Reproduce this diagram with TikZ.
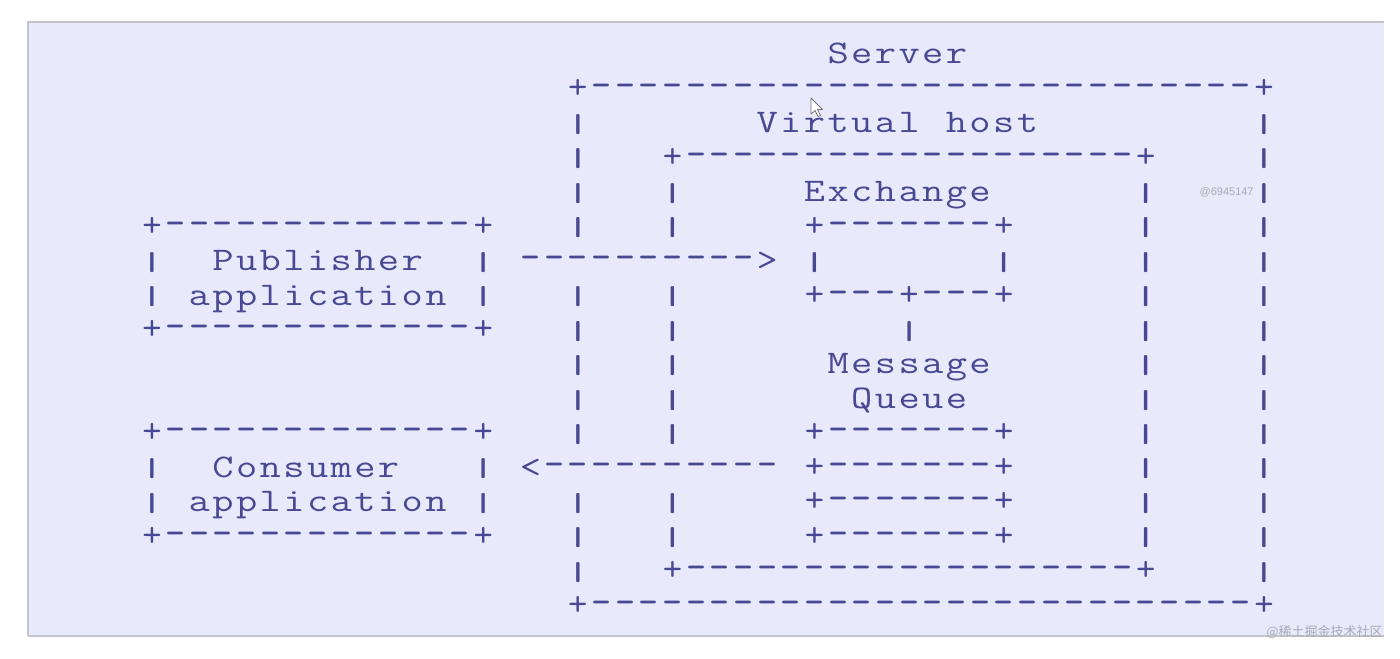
\documentclass[tikz,border=0pt]{standalone}
\usepackage{fontspec}
\usepackage{graphicx}
\newfontfamily\cjkfont{Noto Sans CJK SC}
\newfontfamily\wmfont{Liberation Sans}
\definecolor{ink}{RGB}{72,72,148}
\definecolor{panel}{RGB}{232,234,252}
\definecolor{panelline}{RGB}{196,196,206}
\definecolor{wmgray}{RGB}{170,170,180}
\newlength\monocw
\setlength\monocw{11.83pt}
\newcommand\mono[1]{\monoloop#1\relax}
\def\monoloop#1{\ifx\relax#1\else\monochar{#1}\expandafter\monoloop\fi}
\newcommand\monochar[1]{\makebox[\monocw][c]{\monoglyph{#1}}}
\def\monoglyph#1{\ifx-#1\scalebox{1.18}[1.29]{-}\else
  \ifx|#1\raisebox{0.2pt}{\scalebox{1.57}[0.785]{|}}\else
  \ifx+#1\scalebox{1.14}[1.1]{+}\else
  \scalebox{1.25}[1]{#1}\fi\fi\fi}
\tikzset{
  txt/.style={anchor=base west, inner sep=0pt, outer sep=0pt, text=ink,
    font=\ttfamily\fontsize{16.5pt}{16.5pt}\selectfont},
  wm/.style={inner sep=0pt, text=wmgray}
}
\newcommand\seg[4]{\node[txt] (#1) at ({140.17+#2*23.66},{64+#3*34.44}) {\mono{#4}};}
\begin{document}
\begin{tikzpicture}[x=0.5pt,y=-0.5pt]
\useasboundingbox (0,0) rectangle (1400,658);
\fill[white] (0,0) rectangle (1400,658);
\fill[panel] (28,22) rectangle (1384,636);
\draw[panelline, line width=1pt] (28,636) -- (28,22) -- (1384,22);
\draw[panelline, line width=1.4pt] (28,636) -- (1384,636);
% server
\seg{server}{29}{0}{Server}
\seg{srvtop}{18}{1}{+----------------------------+}
\seg{vhost}{26}{2}{Virtual~host}
\seg{vhtop}{22}{3}{+-------------------+}
\seg{exch}{28}{4}{Exchange}
\seg{pubtop}{0}{5}{+-------------+}
\seg{extop}{28}{5}{+-------+}
\seg{publ}{0}{6}{|}
\seg{pubtxt}{3}{6}{Publisher}
\seg{pubr}{14}{6}{|}
\seg{arrin}{16}{6}{---------->}
\seg{exl}{28}{6}{|}
\seg{exr}{36}{6}{|}
\seg{publ2}{0}{7}{|}
\seg{pubapp}{2}{7}{application}
\seg{pubr2}{14}{7}{|}
\seg{exbot}{28}{7}{+---+---+}
\seg{pubbot}{0}{8}{+-------------+}
\seg{link}{32}{8}{|}
\seg{msg}{29}{9}{Message}
\seg{queue}{30}{10}{Queue}
\seg{contop}{0}{11}{+-------------+}
\seg{qa}{28}{11}{+-------+}
\seg{conl}{0}{12}{|}
\seg{contxt}{3}{12}{Consumer}
\seg{conr}{14}{12}{|}
\seg{arrout}{16}{12}{<----------}
\seg{qb}{28}{12}{+-------+}
\seg{conl2}{0}{13}{|}
\seg{conapp}{2}{13}{application}
\seg{conr2}{14}{13}{|}
\seg{qc}{28}{13}{+-------+}
\seg{conbot}{0}{14}{+-------------+}
\seg{qd}{28}{14}{+-------+}
\seg{vhbot}{22}{15}{+-------------------+}
\seg{srvbot}{18}{16}{+----------------------------+}
\foreach \r in {2,3,4,5,7,8,9,10,11,13,14,15} {\seg{sl\r}{18}{\r}{|}}
\foreach \r in {2,...,15} {\seg{sr\r}{47}{\r}{|}}
\foreach \r in {4,5,7,8,9,10,11,13,14} {\seg{vl\r}{22}{\r}{|}}
\foreach \r in {4,...,14} {\seg{vr\r}{42}{\r}{|}}
% watermarks
\node[wm, anchor=east, font=\wmfont\fontsize{5.5pt}{6pt}\selectfont] (wma) at (1254,192) {@6945147};
\node[wm, anchor=east, font=\cjkfont\fontsize{6.5pt}{7pt}\selectfont] (wmb) at (1383,632) {@稀土掘金技术社区};
% mouse pointer
\path[fill=white, draw=black!55, line width=0.4pt, line join=round]
  (811,98) -- (811,114) -- (815,110.5) -- (818,116.5) -- (820.5,115.5) -- (817.5,109.5) -- (822.5,109.5) -- cycle;
\end{tikzpicture}
\end{document}
